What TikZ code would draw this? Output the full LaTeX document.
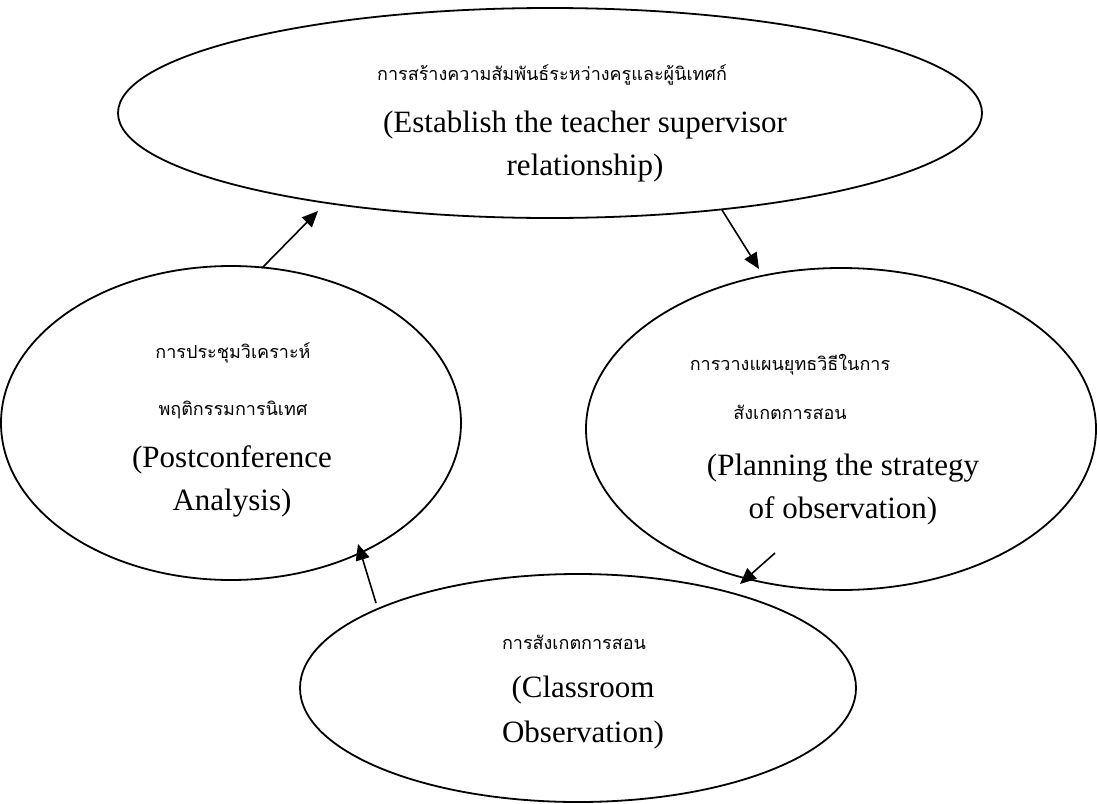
\documentclass[tikz,border=0pt]{standalone}
\usepackage{fontspec}
\setmainfont{Liberation Serif}
\newfontfamily\thaifont[Script=Thai]{Loma}
\usetikzlibrary{arrows.meta}
\begin{document}
\begin{tikzpicture}[x=1pt,y=-1pt,
  ell/.style={draw,line width=1.8pt},
  conn/.style={line width=1.6pt,-{Triangle[length=16pt,width=14pt]}},
  en/.style={font=\fontsize{31}{31}\selectfont},
  th/.style={font=\thaifont\fontsize{18}{18}\selectfont}]
\useasboundingbox (0,0) rectangle (1097,803);
\draw[ell] (550,113) ellipse [x radius=432, y radius=105];
\draw[ell] (231,423) ellipse [x radius=230, y radius=157];
\draw[ell] (841,429) ellipse [x radius=255, y radius=161];
\draw[ell] (578,688) ellipse [x radius=278, y radius=114];
% texts
\node[th] (t1) at (552,75) {การสร้างความสัมพันธ์ระหว่างครูและผู้นิเทศก์};
\node[en] (t2) at (585,125) {(Establish the teacher supervisor};
\node[en] (t3) at (585,168) {relationship)};
\node[th] (l1) at (233,353) {การประชุมวิเคราะห์};
\node[th] (l2) at (233,410) {พฤติกรรมการนิเทศ};
\node[en] (l3) at (232,460) {(Postconference};
\node[en] (l4) at (232,503) {Analysis)};
\node[th] (r1) at (790,365) {การวางแผนยุทธวิธีในการ};
\node[th] (r2) at (790,412) {สังเกตการสอน};
\node[en] (r3) at (843,468) {(Planning the strategy};
\node[en] (r4) at (843,511) {of observation)};
\node[th] (b1) at (574,642) {การสังเกตการสอน};
\node[en] (b2) at (583,690) {(Classroom};
\node[en] (b3) at (583,735) {Observation)};
% arrows
\coordinate (a1s) at (262,268); \coordinate (a1e) at (318,211);
\coordinate (a2s) at (722,210); \coordinate (a2e) at (759,269);
\coordinate (a3s) at (775,553); \coordinate (a3e) at (740,584);
\coordinate (a4s) at (376,603); \coordinate (a4e) at (358,544);
\draw[conn] (a1s) -- (a1e);
\draw[conn] (a2s) -- (a2e);
\draw[conn] (a3s) -- (a3e);
\draw[conn] (a4s) -- (a4e);
\end{tikzpicture}
\end{document}
